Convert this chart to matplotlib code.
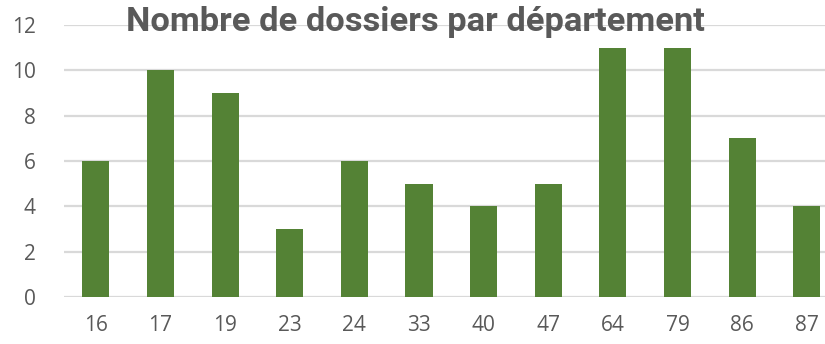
import matplotlib
matplotlib.use('Agg')
import matplotlib.pyplot as plt

# Number of files per department
departements = ["16", "17", "19", "23", "24", "33", "40", "47", "64", "79", "86", "87"]
dossiers = [6, 10, 9, 3, 6, 5, 4, 5, 11, 11, 7, 4]
y_ticks = [0, 2, 4, 6, 8, 10, 12]

fig = plt.figure(figsize=(8.25, 3.44), dpi=100)
ax = fig.add_axes([0.077, 0.1366, 0.94, 0.791])

x = range(len(departements))
ax.bar(x, dossiers, width=0.42, color="#548235", zorder=3)

ax.set_xlim(-0.5, len(departements) - 0.5)
ax.set_ylim(0, 12)
ax.set_yticks(y_ticks)
ax.set_xticks(list(x))
ax.set_xticklabels(departements)

ax.grid(axis="y", color="#d9d9d9", linewidth=1.6, zorder=0)
ax.set_axisbelow(True)
for side in ["top", "right", "left", "bottom"]:
    ax.spines[side].set_visible(False)
ax.tick_params(axis="both", length=0, labelsize=15, labelcolor="#595959")
ax.tick_params(axis="x", pad=13)
ax.tick_params(axis="y", pad=20)
for lbl in ax.get_xticklabels() + ax.get_yticklabels():
    lbl.set_fontfamily("Open Sans")

fig.text(0.503, 0.91, "Nombre de dossiers par département", ha="center", va="baseline",
         fontsize=24.8, fontweight="bold",
         family=["Roboto", "DejaVu Sans"], color="#595959")

plt.savefig("out.png", dpi=100)
